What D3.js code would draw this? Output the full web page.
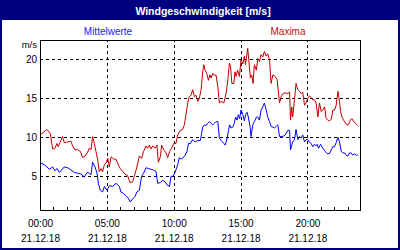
<!DOCTYPE html>
<html><head><meta charset="utf-8">
<script src="https://cdn.jsdelivr.net/npm/d3@7"></script>
<style>
html,body{margin:0;padding:0;background:#fff;}
svg{display:block;}
text{font-family:"Liberation Sans",Arial,sans-serif;}
</style></head>
<body>
<svg id="c" width="400" height="250"></svg>
<script>
const title = "Windgeschwindigkeit [m/s]";
const seriesNames = ["Mittelwerte", "Maxima"];
const unitLabel = "m/s";
const yTicks = [5, 10, 15, 20];
const xTickMinutes = [0, 300, 600, 900, 1200];
const xTickLabels = ["00:00", "05:00", "10:00", "15:00", "20:00"];
const dateLabel = "21.12.18";

const maxMinutes = [0,31,46,57,67,76,82,91,101,109,124,139,146,157,169,181,191,202,214,221,229,236,244,251,259,266,274,281,289,296,304,311,319,331,341,356,360,371,381,393,404,416,423,435,446,456,465,476,483,491,498,506,516,525,531,540,546,555,566,573,582,591,600,610,618,630,640,648,655,663,670,678,685,693,700,708,715,723,730,735,741,748,756,762,768,775,783,790,798,805,813,825,835,843,850,855,861,870,875,880,887,895,902,910,917,922,926,932,937,944,950,956,962,971,977,985,992,1000,1007,1015,1022,1030,1037,1045,1055,1064,1075,1082,1090,1100,1112,1120,1124,1130,1134,1142,1149,1157,1164,1172,1179,1187,1194,1202,1209,1217,1224,1232,1239,1247,1254,1262,1269,1277,1284,1292,1299,1307,1314,1322,1329,1337,1344,1349,1355,1362,1369,1377,1384,1393,1399,1408,1419,1426];
const maxValues = [10.3,11.0,10.5,8.5,8.6,9.2,8.8,9.4,10.1,9.3,9.4,9.5,8.9,8.4,8.4,8.2,7.4,7.6,8.1,8.6,8.4,10.1,9.2,8.2,7.1,5.6,6.0,5.6,6.5,6.7,7.3,6.2,7.5,7.2,7.2,6.2,6.0,5.6,5.3,5.1,4.2,4.3,5.0,6.2,7.6,7.3,8.2,8.9,8.6,9.0,8.5,8.9,8.6,9.0,6.8,7.5,9.0,8.4,8.0,7.4,8.2,8.6,9.2,9.2,10.3,10.9,11.0,11.6,12.9,14.4,15.2,15.4,16.1,15.2,15.4,14.6,15.0,16.1,18.4,19.3,18.6,18.2,17.3,18.0,17.6,18.2,17.9,18.0,16.5,14.4,14.6,14.4,15.6,17.4,19.5,19.1,16.9,16.9,18.4,17.8,18.6,17.8,19.9,19.4,20.4,19.3,20.1,21.4,19.9,17.6,18.0,16.9,19.3,18.6,20.1,19.7,20.6,20.3,21.0,20.4,20.7,19.9,16.9,18.0,17.8,17.4,14.4,15.2,15.6,15.7,15.6,15.8,12.2,13.9,12.6,14.8,16.9,16.1,15.9,15.6,15.8,14.1,14.4,15.0,15.3,15.1,14.8,14.8,14.4,12.6,14.4,13.3,13.5,13.9,12.4,12.2,12.1,12.3,13.5,13.5,14.1,15.9,14.6,13.3,12.6,12.2,11.9,11.6,11.6,12.2,12.4,12.0,11.7,11.5];

const meanMinutes = [0,19,31,42,57,67,76,87,97,109,124,139,154,169,184,199,211,221,229,236,247,256,262,271,281,289,301,311,326,341,356,363,375,386,396,405,416,426,435,446,456,465,476,486,498,510,521,528,540,551,561,570,581,588,597,606,618,625,633,640,651,660,666,675,685,696,708,720,730,738,745,753,760,768,775,783,790,798,805,813,825,831,840,846,851,857,865,872,878,884,890,896,902,910,917,923,929,935,943,947,955,962,971,977,985,992,1000,1007,1015,1022,1030,1037,1045,1052,1060,1067,1075,1085,1097,1105,1112,1120,1124,1130,1134,1142,1149,1157,1164,1172,1179,1187,1194,1202,1209,1217,1224,1232,1239,1244,1250,1259,1269,1280,1289,1299,1307,1314,1322,1329,1337,1344,1352,1359,1367,1374,1381,1389,1396,1404,1411,1419,1426];
const meanValues = [6.7,6.5,6.2,5.9,6.2,5.7,6.0,5.5,5.8,6.2,6.1,5.8,5.5,5.4,5.3,4.9,5.5,5.4,5.2,6.8,6.2,5.4,4.1,3.2,3.0,3.7,3.2,3.8,3.7,4.1,3.7,3.0,2.8,2.5,2.2,1.7,2.1,2.4,3.0,3.2,5.0,5.4,6.1,6.0,5.9,5.8,5.6,4.1,4.2,4.5,4.3,3.9,3.7,5.0,5.0,5.5,6.5,7.4,7.2,7.3,7.7,8.2,9.2,9.2,9.7,9.4,9.6,9.6,11.3,11.6,11.5,11.8,12.0,11.8,11.6,11.8,12.0,12.0,9.9,9.6,9.2,9.0,9.9,10.9,11.6,11.2,11.3,11.8,12.6,12.2,12.9,12.4,13.5,12.9,12.1,12.9,13.2,12.6,11.3,10.1,11.6,12.0,12.6,12.6,12.2,13.5,13.9,14.4,13.5,12.6,12.0,11.4,11.3,11.2,11.4,11.6,10.1,10.1,10.2,10.5,10.9,10.9,8.4,9.0,9.4,9.7,11.0,9.7,10.1,9.9,10.3,9.4,9.7,9.7,9.4,9.2,8.8,9.1,8.9,9.1,8.6,9.1,8.6,8.2,7.9,7.9,8.4,8.8,8.8,9.3,10.0,9.4,8.2,8.0,8.0,7.7,7.6,8.0,8.0,7.7,7.9,7.7,7.7];

const svg = d3.select("#c");
const W = 400, H = 250;
const L = 40, R = 360, T = 40, B = 210;

const x = d3.scaleLinear().domain([0, 1436]).range([L, R]);
const y = d3.scaleLinear().domain([0.68, 22.47]).range([B, T]);

// background + frame
svg.append("rect").attr("x",0).attr("y",0).attr("width",W).attr("height",H).attr("fill","#fff");
svg.append("rect").attr("x",1).attr("y",1).attr("width",W-2).attr("height",H-2)
  .attr("fill","none").attr("stroke","#000080").attr("stroke-width",2);
svg.append("rect").attr("x",0).attr("y",0).attr("width",W).attr("height",20).attr("fill","#000080");
svg.append("text").attr("x",203).attr("y",14.5).attr("text-anchor","middle")
  .attr("fill","#fff").attr("font-weight","bold").attr("font-size","10.5px").text(title);

// legend
svg.append("text").attr("x",108).attr("y",34.5).attr("text-anchor","middle")
  .attr("fill","#2020ff").attr("font-size","10px").text(seriesNames[0]);
svg.append("text").attr("x",288).attr("y",34.5).attr("text-anchor","middle")
  .attr("fill","#c01010").attr("font-size","10px").text(seriesNames[1]);

// grid
const grid = svg.append("g").attr("shape-rendering","crispEdges");
grid.append("g").attr("transform",`translate(0,${B})`)
  .call(d3.axisBottom(x).tickValues(xTickMinutes.filter(d=>d>0)).tickSize(-(B-T)).tickFormat(""))
  .call(g=>g.select(".domain").remove())
  .call(g=>g.selectAll("line").attr("stroke","#000").attr("stroke-dasharray","3,3"));
grid.append("g").attr("transform",`translate(${L},0)`)
  .call(d3.axisLeft(y).tickValues(yTicks).tickSize(-(R-L)).tickFormat(""))
  .call(g=>g.select(".domain").remove())
  .call(g=>g.selectAll("line").attr("stroke","#000").attr("stroke-dasharray","3,3"));

// hour ticks
svg.append("g").attr("transform",`translate(0,${B})`).attr("shape-rendering","crispEdges")
  .call(d3.axisTop(x).tickValues(d3.range(0, 1440, 60)).tickSize(3).tickFormat(""))
  .call(g=>g.select(".domain").remove())
  .call(g=>g.selectAll("line").attr("stroke","#000"));

// y labels
svg.append("g").attr("transform",`translate(${L},0)`)
  .call(d3.axisLeft(y).tickValues(yTicks).tickSize(0).tickPadding(3))
  .call(g=>g.select(".domain").remove())
  .call(g=>g.selectAll("text").attr("fill","#000").attr("font-size","10px")
     .attr("font-family","'Liberation Sans',Arial,sans-serif"));
svg.append("text").attr("x",37).attr("y",48).attr("text-anchor","end")
  .attr("fill","#000").attr("font-size","9.5px").text(unitLabel);

// x labels
const xl = svg.append("g").attr("transform",`translate(0,${B})`)
  .call(d3.axisBottom(x).tickValues(xTickMinutes).tickSize(0).tickPadding(0)
    .tickFormat((d,i)=>xTickLabels[i]));
xl.select(".domain").remove();
xl.selectAll("text").attr("fill","#000").attr("font-size","10px")
  .attr("font-family","'Liberation Sans',Arial,sans-serif").attr("dy",null).attr("y",17);
xl.selectAll(".tick").append("text").attr("y",32).attr("fill","#000").attr("font-size","10px")
  .attr("font-family","'Liberation Sans',Arial,sans-serif").attr("text-anchor","middle").text(dateLabel);

// data lines
const line = d3.line().x(d=>x(d[0])).y(d=>y(d[1]));
svg.append("path").datum(maxMinutes.map((m,i)=>[m,maxValues[i]]))
  .attr("d",line).attr("fill","none").attr("stroke","#c00000").attr("stroke-width",1);
svg.append("path").datum(meanMinutes.map((m,i)=>[m,meanValues[i]]))
  .attr("d",line).attr("fill","none").attr("stroke","#0000ff").attr("stroke-width",1);

// plot frame
svg.append("rect").attr("x",L+0.5).attr("y",T+0.5).attr("width",R-L).attr("height",B-T)
  .attr("fill","none").attr("stroke","#000").attr("stroke-width",1).attr("shape-rendering","crispEdges");
</script>
</body></html>
